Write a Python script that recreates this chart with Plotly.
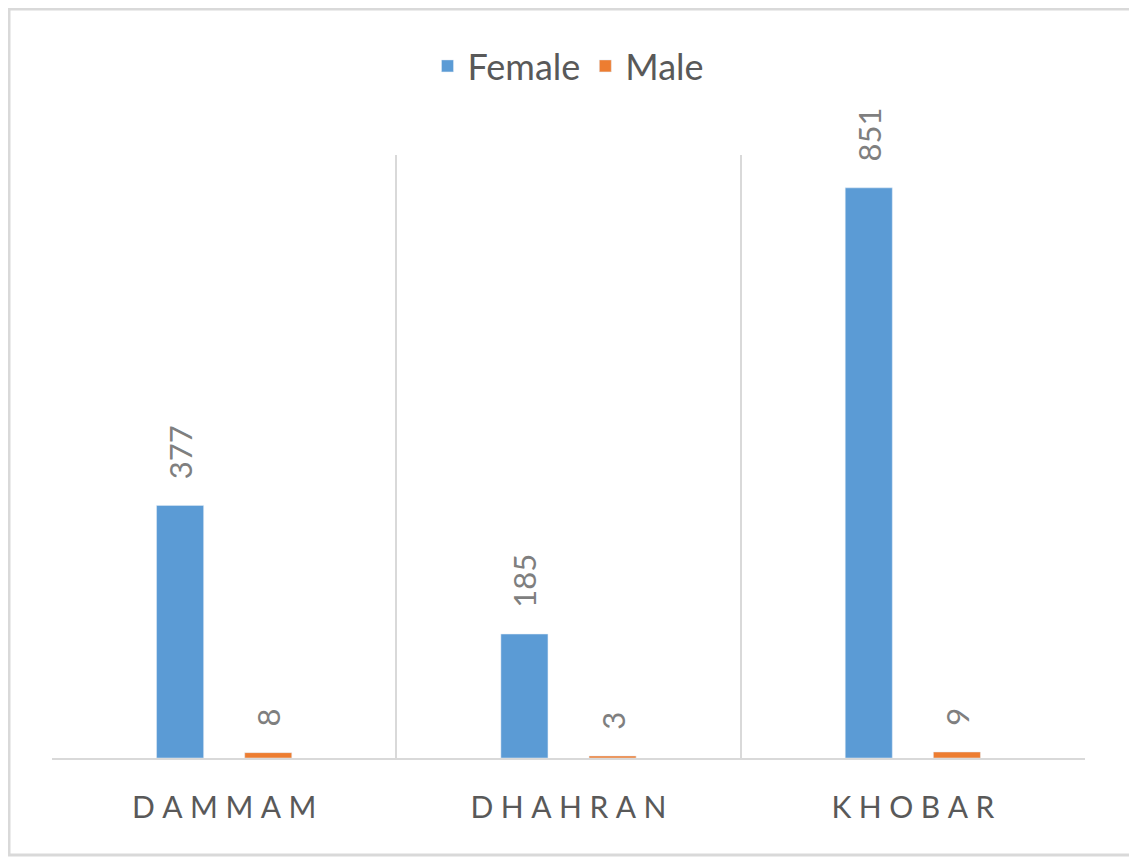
import plotly.graph_objects as go

cities = ["DAMMAM", "DHAHRAN", "KHOBAR"]
female = [377, 185, 851]
male = [8, 3, 9]

# spread the letters out, like the original axis labels
city_labels = ["\u2009\u2009".join(c) for c in cities]

# page has an 8px body margin, so the figure is a little smaller than the window
W, H = 1129, 850
ml, mr, mt, mb = 44, 52, 147, 100
pw, ph = W - ml - mr, H - mt - mb

label_font = dict(size=31, color="#7F7F7F", family="Lato")

fig = go.Figure()
fig.add_trace(go.Bar(
    x=cities, y=female, name="Female",
    marker_color="#5B9BD5",
    text=female, texttemplate="\u2003%{text}", textposition="outside", textangle=-90,
    textfont=label_font, cliponaxis=False, constraintext="none",
))
fig.add_trace(go.Bar(
    x=cities, y=male, name="Male",
    marker_color="#ED7D31",
    text=male, texttemplate="\u2003%{text}", textposition="outside", textangle=-90,
    textfont=label_font, cliponaxis=False, constraintext="none",
))

fig.update_layout(
    width=W, height=H,
    margin=dict(l=ml, r=mr, t=mt, b=mb),
    paper_bgcolor="white", plot_bgcolor="white",
    barmode="group", bargap=0.488, bargroupgap=0.466,
    font=dict(family="Lato", color="#595959"),
    legend=dict(
        orientation="h", x=0.5, xanchor="center", y=1.0 + 89 / ph,
        yanchor="middle", font=dict(size=36, color="#595959"),
    ),
)
fig.update_xaxes(
    tickmode="array", tickvals=cities, ticktext=city_labels,
    tickson="boundaries", ticks="", showgrid=True, gridcolor="#D9D9D9", gridwidth=2,
    showline=True, linecolor="#D9D9D9", linewidth=2,
    tickfont=dict(size=30, color="#595959"), ticklabelstandoff=22,
)
fig.update_yaxes(range=[0, 900], visible=False, showgrid=False)

# thin gray frame around the whole chart
fig.add_shape(
    type="rect", xref="paper", yref="paper",
    x0=-(ml - 1) / pw, x1=1 + (mr - 2) / pw,
    y0=-(mb - 3) / ph, y1=1 + (mt - 1) / ph,
    line=dict(color="#D9D9D9", width=3), layer="below",
)

fig.write_html("out.html")
